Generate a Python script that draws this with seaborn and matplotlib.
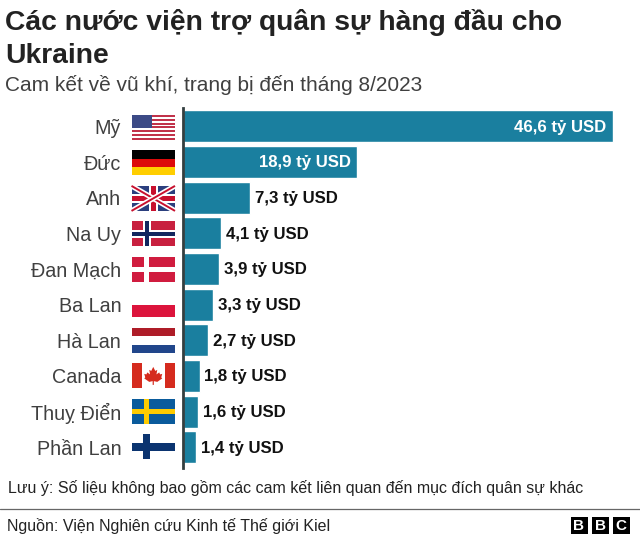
import matplotlib
matplotlib.use('Agg')
import matplotlib.pyplot as plt
from matplotlib.patches import Rectangle, Polygon
import pandas as pd
import seaborn as sns

countries = ['Mỹ', 'Đức', 'Anh', 'Na Uy', 'Đan Mạch', 'Ba Lan', 'Hà Lan', 'Canada', 'Thuỵ Điển', 'Phần Lan']
values = [46.6, 18.9, 7.3, 4.1, 3.9, 3.3, 2.7, 1.8, 1.6, 1.4]
flags = ['us', 'de', 'uk', 'no', 'dk', 'pl', 'nl', 'ca', 'se', 'fi']

title = 'Các nước viện trợ quân sự hàng đầu cho\nUkraine'
subtitle = 'Cam kết về vũ khí, trang bị đến tháng 8/2023'
note = 'Lưu ý: Số liệu không bao gồm các cam kết liên quan đến mục đích quân sự khác'
source = 'Nguồn: Viện Nghiên cứu Kinh tế Thế giới Kiel'

W, H = 640, 540
BAR = '#1a7f9f'

sns.set_theme(style='white')
plt.rcParams['font.family'] = ['Liberation Sans', 'DejaVu Sans']

df = pd.DataFrame({'country': countries, 'value': values})

fig = plt.figure(figsize=(6.4, 5.4), dpi=100, facecolor='white')
ax = fig.add_axes([183 / W, 1 - 468 / H, (W - 183) / W, 360 / H])
sns.barplot(data=df, x='value', y='country', color=BAR, saturation=1, width=0.9, ax=ax)
ax.set_xlim(0, 49.5)
ax.set_ylim(9.58, -0.515)
ax.set(xlabel=None, ylabel=None, xticks=[])
ax.tick_params(axis='y', length=0, pad=44.5, labelsize=14.2, labelcolor='#404040')
sns.despine(ax=ax, top=True, right=True, bottom=True)
ax.spines['left'].set_color('#333f40')
ax.spines['left'].set_linewidth(2)

for i, v in enumerate(values):
    lab = f'{v:.1f}'.replace('.', ',') + ' tỷ USD'
    if v > 10:
        ax.annotate(lab, (v, i), xytext=(-5, -0.5), textcoords='offset points', ha='right', va='center',
                    color='white', fontsize=12.1, fontweight='bold')
    else:
        ax.annotate(lab, (v, i), xytext=(3.5, -0.5), textcoords='offset points', ha='left', va='center',
                    color='#111111', fontsize=12.1, fontweight='bold')

# overlay in pixel coordinates for the flags, text and logo
ov = fig.add_axes([0, 0, 1, 1], zorder=5)
ov.set_xlim(0, W)
ov.set_ylim(H, 0)
ov.axis('off')
ov.patch.set_alpha(0)


def rect(x, y, w, h, c):
    ov.add_patch(Rectangle((x, y), w, h, facecolor=c, edgecolor='none'))


def draw_flag(name, yc):
    x, w, h = 131.5, 43.5, 25
    y = yc - h / 2
    if name == 'us':
        for k in range(13):
            rect(x, y + k * h / 13, w, h / 13, '#c1324a' if k % 2 == 0 else 'white')
        rect(x, y, w * 0.46, h * 7 / 13, '#3c4a86')
    elif name == 'de':
        rect(x, y, w, h / 3, '#000000')
        rect(x, y + h / 3, w, h / 3, '#dd0a0a')
        rect(x, y + 2 * h / 3, w, h / 3, '#ffce00')
    elif name == 'uk':
        rect(x, y, w, h, '#2b3f7e')
        for a, b, c, d in [(x, y, x + w, y + h), (x, y + h, x + w, y)]:
            ov.plot([a, c], [b, d], color='white', lw=3.8, solid_capstyle='butt')
            ov.plot([a, c], [b, d], color='#c8102e', lw=1.4, solid_capstyle='butt')
        rect(x + w / 2 - 4.5, y, 9, h, 'white')
        rect(x, y + h / 2 - 4.5, w, 9, 'white')
        rect(x + w / 2 - 2.6, y, 5.2, h, '#c8102e')
        rect(x, y + h / 2 - 2.6, w, 5.2, '#c8102e')
    elif name == 'no':
        rect(x, y, w, h, '#c8203f')
        rect(x + 11, y, 8, h, 'white')
        rect(x, y + h / 2 - 4, w, 8, 'white')
        rect(x + 13, y, 4, h, '#12275f')
        rect(x, y + h / 2 - 2, w, 4, '#12275f')
    elif name == 'dk':
        rect(x, y, w, h, '#d01c3f')
        rect(x + 12, y, 5, h, 'white')
        rect(x, y + h / 2 - 2.5, w, 5, 'white')
    elif name == 'pl':
        rect(x, y + h / 2, w, h / 2, '#dc143c')
    elif name == 'nl':
        rect(x, y, w, h / 3, '#ae1c28')
        rect(x, y + 2 * h / 3, w, h / 3, '#21468b')
    elif name == 'ca':
        rect(x, y, 10.5, h, '#d52b1e')
        rect(x + w - 10.5, y, 10.5, h, '#d52b1e')
        cx = x + w / 2
        leaf = [(0, -9), (2, -5), (4, -6), (3.2, -1.5), (6, -3.5), (6.8, -1.5), (9, -2), (8, 1.5),
                (9, 2.5), (4, 6), (0.6, 5.2), (0.6, 9), (-0.6, 9), (-0.6, 5.2), (-4, 6), (-9, 2.5),
                (-8, 1.5), (-9, -2), (-6.8, -1.5), (-6, -3.5), (-3.2, -1.5), (-4, -6), (-2, -5)]
        ov.add_patch(Polygon([(cx + a, yc + b) for a, b in leaf], facecolor='#d52b1e', edgecolor='none'))
    elif name == 'se':
        rect(x, y, w, h, '#0a5b9c')
        rect(x + 12, y, 5, h, '#fecb00')
        rect(x, y + h / 2 - 2.5, w, 5, '#fecb00')
    elif name == 'fi':
        rect(x + 11, y, 7.5, h, '#0b3470')
        rect(x, y + h / 2 - 3.7, w, 7.4, '#0b3470')


for i, name in enumerate(flags):
    draw_flag(name, 127.4 + i * 35.5)

ov.text(5, 22, title.split('\n')[0], fontsize=20.3, fontweight='bold', color='#222222', va='center', ha='left')
ov.text(5, 56, title.split('\n')[1], fontsize=20.3, fontweight='bold', color='#222222', va='center', ha='left')
ov.text(5, 85, subtitle, fontsize=15, color='#404040', va='center', ha='left')
ov.text(8, 487.5, note, fontsize=11.55, color='#222222', va='center', ha='left')
ov.plot([0, W], [509, 509], color='#666666', lw=0.9)
ov.text(7, 526, source, fontsize=11.5, color='#222222', va='center', ha='left')

for x0, letter in zip([570.5, 591.5, 612.5], 'BBC'):
    rect(x0, 516.5, 17, 17.5, 'black')
    ov.text(x0 + 8.5, 525.5, letter, color='white', fontsize=11, fontweight='bold', ha='center', va='center')

fig.savefig('out.png', dpi=100)
